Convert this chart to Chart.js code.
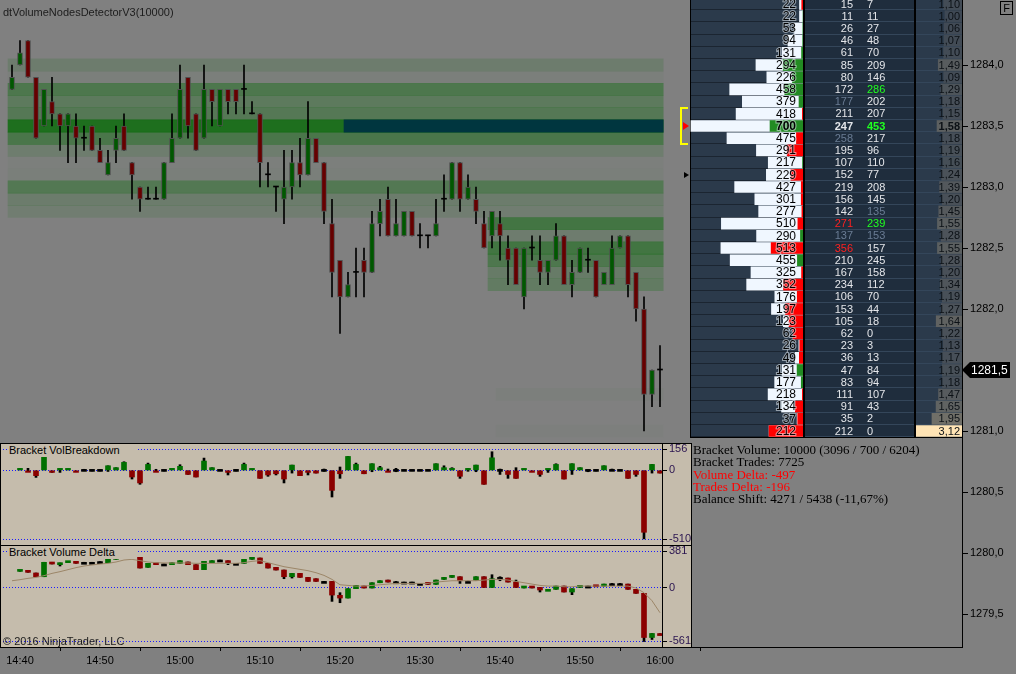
<!DOCTYPE html>
<html>
<head>
<meta charset="utf-8">
<script src="https://cdn.jsdelivr.net/npm/chart.js@4.4.1/dist/chart.umd.min.js"></script>
<style>
  html, body { margin: 0; padding: 0; background: #808080; overflow: hidden; }
  #wrap { position: relative; width: 1016px; height: 674px; }
  canvas { position: absolute; }
  .txt { position: absolute; white-space: nowrap; font-family: Arial, "Liberation Sans", sans-serif; color: #000; }
</style>
</head>
<body>
<div id="wrap">
  <canvas id="bands" width="962" height="647" style="left:0;top:0"></canvas>
  <canvas id="price" width="1016" height="674" style="left:0;top:0"></canvas>
  <canvas id="ladder" width="272" height="647" style="left:690px;top:0"></canvas>
  <canvas id="ratio" width="46" height="647" style="left:916px;top:0"></canvas>
  <canvas id="vb" width="692" height="103" style="left:0;top:443px"></canvas>
  <canvas id="cd" width="692" height="103" style="left:0;top:545px"></canvas>

  <div class="txt" style="left:3px;top:5px;font-size:11px;line-height:14px;color:#1c1c1c">dtVolumeNodesDetectorV3(10000)</div>
  <div class="txt" style="left:7px;top:444px;width:128px;padding-left:2px;font-size:11px;line-height:13px;background:#c5bcac">Bracket VolBreakdown</div>
  <div class="txt" style="left:7px;top:546px;width:128px;padding-left:2px;font-size:11px;line-height:13px;background:#c5bcac">Bracket Volume Delta</div>
  <div class="txt" style="left:3px;top:634px;font-size:11px;line-height:14px;color:#1c1c1c">© 2016 NinjaTrader, LLC</div>
  <div class="txt" style="left:693px;top:444px;font-family:'Liberation Serif','DejaVu Serif',serif;font-size:13px;line-height:12.3px">
    <div>Bracket Volume: 10000 (3096 / 700 / 6204)</div>
    <div>Bracket Trades: 7725</div>
    <div style="color:#ff0000">Volume Delta: -497</div>
    <div style="color:#ff0000">Trades Delta: -196</div>
    <div>Balance Shift: 4271 / 5438 (-11,67%)</div>
  </div>
  <div class="txt" style="left:1000px;top:1px;width:11px;height:12px;border:1px solid #000;font-size:11px;line-height:12px;text-align:center">F</div>
</div>

<script>
// ---------- data ----------
const timeTickIdx = [1, 11, 21, 31, 41, 51, 61, 71, 81];
const timeLabels = ['14:40', '14:50', '15:00', '15:10', '15:20', '15:30', '15:40', '15:50', '16:00'];
const priceTicks = [1279.5, 1280.0, 1280.5, 1281.0, 1281.5, 1282.0, 1282.5, 1283.0, 1283.5, 1284.0];

const candleOpen = [
  1283.8, 1284.0, 1284.2, 1283.9, 1283.5, 1283.7, 1283.6, 1283.5, 1283.5, 1283.4,
  1283.5, 1283.3, 1283.1, 1283.3, 1283.5, 1283.2, 1283.0, 1282.9, 1282.9, 1282.9,
  1283.2, 1283.4, 1283.9, 1283.6, 1283.4, 1283.8, 1283.5, 1283.8, 1283.8, 1283.8,
  1283.6, 1283.6, 1283.1, 1283.0, 1282.9, 1283.0, 1283.2, 1283.1, 1283.4, 1283.2,
  1282.7, 1282.4, 1282.1, 1282.3, 1282.4, 1282.3, 1282.7, 1282.9, 1282.6, 1282.6,
  1282.8, 1282.6, 1282.6, 1282.6, 1282.9, 1282.9, 1283.2, 1282.9, 1282.9, 1282.7,
  1282.6, 1282.7, 1282.5, 1282.5, 1282.1, 1282.5, 1282.4, 1282.3, 1282.4, 1282.6,
  1282.2, 1282.3, 1282.4, 1282.4, 1282.2, 1282.2, 1282.5, 1282.6, 1282.3, 1282.0,
  1281.3, 1281.5];
const candleHigh = [
  1284.0, 1284.2, 1284.2, 1283.9, 1283.8, 1283.9, 1283.6, 1283.6, 1283.6, 1283.5,
  1283.5, 1283.4, 1283.3, 1283.5, 1283.6, 1283.2, 1283.0, 1283.0, 1283.0, 1283.2,
  1283.6, 1284.0, 1283.9, 1283.6, 1284.0, 1283.8, 1283.8, 1283.8, 1283.8, 1284.0,
  1283.7, 1283.6, 1283.2, 1283.0, 1283.3, 1283.3, 1283.4, 1283.7, 1283.4, 1283.2,
  1282.9, 1282.4, 1282.3, 1282.5, 1282.5, 1282.8, 1282.9, 1283.0, 1282.9, 1282.8,
  1282.8, 1282.7, 1282.6, 1282.9, 1283.1, 1283.2, 1283.2, 1283.1, 1283.0, 1282.8,
  1282.8, 1282.8, 1282.6, 1282.5, 1282.5, 1282.6, 1282.6, 1282.4, 1282.7, 1282.6,
  1282.4, 1282.5, 1282.5, 1282.4, 1282.3, 1282.6, 1282.6, 1282.6, 1282.3, 1282.1,
  1281.5, 1281.7];
const candleLow = [
  1283.8, 1284.0, 1283.9, 1283.4, 1283.5, 1283.5, 1283.3, 1283.2, 1283.2, 1283.3,
  1283.3, 1283.2, 1283.1, 1283.2, 1283.3, 1282.9, 1282.8, 1282.9, 1282.9, 1282.9,
  1283.2, 1283.4, 1283.4, 1283.3, 1283.4, 1283.5, 1283.5, 1283.6, 1283.6, 1283.6,
  1283.6, 1283.0, 1283.0, 1282.8, 1282.7, 1282.9, 1283.0, 1283.1, 1283.2, 1282.7,
  1282.1, 1281.8, 1282.1, 1282.1, 1282.1, 1282.3, 1282.6, 1282.6, 1282.6, 1282.6,
  1282.6, 1282.5, 1282.5, 1282.6, 1282.8, 1282.9, 1282.8, 1282.9, 1282.7, 1282.5,
  1282.5, 1282.4, 1282.2, 1282.2, 1282.0, 1282.4, 1282.2, 1282.2, 1282.4, 1282.2,
  1282.1, 1282.3, 1282.3, 1282.1, 1282.2, 1282.2, 1282.5, 1282.1, 1281.9, 1281.0,
  1281.2, 1281.2];
const candleClose = [
  1283.9, 1284.1, 1283.9, 1283.4, 1283.8, 1283.6, 1283.5, 1283.6, 1283.4, 1283.4,
  1283.3, 1283.2, 1283.2, 1283.4, 1283.3, 1283.1, 1282.9, 1282.9, 1282.9, 1283.2,
  1283.4, 1283.8, 1283.5, 1283.3, 1283.8, 1283.7, 1283.8, 1283.7, 1283.7, 1283.8,
  1283.6, 1283.2, 1283.1, 1283.0, 1283.0, 1283.2, 1283.1, 1283.4, 1283.2, 1282.8,
  1282.3, 1282.1, 1282.2, 1282.3, 1282.3, 1282.7, 1282.8, 1282.6, 1282.7, 1282.8,
  1282.6, 1282.6, 1282.6, 1282.7, 1282.9, 1283.2, 1282.9, 1283.0, 1282.8, 1282.5,
  1282.8, 1282.6, 1282.4, 1282.2, 1282.5, 1282.5, 1282.3, 1282.4, 1282.6, 1282.2,
  1282.3, 1282.5, 1282.4, 1282.1, 1282.3, 1282.5, 1282.6, 1282.2, 1282.0, 1281.3,
  1281.5, 1281.5];

// volume ladder, one row per 0.1
const ladderPrice = [1284.5, 1284.4, 1284.3, 1284.2, 1284.1, 1284.0, 1283.9, 1283.8, 1283.7, 1283.6,
  1283.5, 1283.4, 1283.3, 1283.2, 1283.1, 1283.0, 1282.9, 1282.8, 1282.7, 1282.6,
  1282.5, 1282.4, 1282.3, 1282.2, 1282.1, 1282.0, 1281.9, 1281.8, 1281.7, 1281.6,
  1281.5, 1281.4, 1281.3, 1281.2, 1281.1, 1281.0];
const ladderVol = [22, 22, 53, 94, 131, 294, 226, 458, 379, 418, 700, 475, 291, 217, 229, 427, 301, 277,
  510, 290, 513, 455, 325, 352, 176, 197, 123, 62, 26, 49, 131, 177, 218, 134, 37, 212];
const ladderBid = [15, 11, 26, 46, 61, 85, 80, 172, 177, 211, 247, 258, 195, 107, 152, 219, 156, 142,
  271, 137, 356, 210, 167, 234, 106, 153, 105, 62, 23, 36, 47, 83, 111, 91, 35, 212];
const ladderAsk = [7, 11, 27, 48, 70, 209, 146, 286, 202, 207, 453, 217, 96, 110, 77, 208, 145, 135,
  239, 153, 157, 245, 158, 112, 70, 44, 18, 0, 3, 13, 84, 94, 107, 43, 2, 0];
const ladderRatio = [1.10, 1.00, 1.06, 1.07, 1.10, 1.49, 1.09, 1.29, 1.18, 1.15, 1.58, 1.18, 1.19, 1.16,
  1.24, 1.39, 1.20, 1.45, 1.55, 1.28, 1.55, 1.28, 1.20, 1.34, 1.19, 1.27, 1.64, 1.22, 1.13, 1.17,
  1.19, 1.18, 1.47, 1.65, 1.95, 3.12];
// first bar index where each volume node band starts
const bandFromIdx = [-0.5, -0.5, -0.5, -0.5, -0.5, -0.5, -0.5, -0.5, -0.5, -0.5, -0.5, -0.5, -0.5, -0.5,
  -0.5, -0.5, -0.5, -0.5, 59.5, 59.5, 59.5, 59.5, 59.5, 59.5, 41.5, 41.5, 60.5, 60.5, 60.5, 60.5,
  60.5, 60.5, 60.5, 60.5, 60.5, 60.5];
const bandToIdx = 81.4;
const pocPrice = 1283.5;
const pocShiftIdx = 41.5;
const bracketTop = 1283.65;
const bracketBottom = 1283.35;
const markPrice = 1283.1;

// Bracket VolBreakdown
const vbDelta = [null, 8, -5, -39, 156, -15, 10, 10, -10, 0,
  0, 0, 34, 20, 59, -49, -93, 44, -5, 0,
  15, 30, -30, -49, 69, 20, 0, -15, 0, 44,
  10, -59, -34, -25, -64, 39, -39, -15, -20, 0,
  -148, -25, 103, 44, -25, 49, 20, -10, 0, 0,
  0, 0, 0, 49, 20, 15, -44, 5, 39, -103,
  93, 0, -30, -59, 10, -10, -30, 10, 44, -64,
  49, 20, 0, 0, 34, 0, 0, -59, -30, -458,
  44, -20];
const vbHigh = [null, 12, 15, 0, 156, 0, 10, 10, 0, 8,
  3, 5, 34, 20, 64, 0, 0, 54, 8, 2,
  15, 42, 0, 0, 91, 20, 3, 0, 5, 54,
  10, 0, 0, 0, 0, 39, 0, 0, 0, 10,
  0, 25, 103, 54, 0, 49, 30, 10, 15, 3,
  3, 3, 3, 49, 34, 20, 0, 15, 39, 0,
  138, 10, 0, 20, 10, 0, 0, 10, 49, 0,
  49, 20, 3, 3, 34, 10, 3, 0, 0, 0,
  44, 0];
const vbLow = [null, 0, -8, -52, 0, -15, -15, 0, -10, -3,
  -5, -5, -8, 0, 0, -64, -103, 0, -8, -5,
  0, 0, -30, -49, 0, 0, -3, -34, -5, 0,
  0, -59, -44, -34, -93, -20, -39, -34, -20, -7,
  -197, -59, 0, 0, -25, -10, 0, -10, -10, -3,
  -3, -3, -3, 0, 0, 0, -59, -7, -10, -103,
  0, -30, -59, -59, 0, -10, -44, -15, 0, -64,
  -30, 0, -10, -5, 0, 0, -3, -59, -44, -507,
  -20, -20];
const vbTicks = [156, 0, -510];

// Bracket Volume Delta (cumulative)
const cdOpen = [null, 171, 182, 154, 115, 266, 241, 262, 266, 266,
  266, 273, 262, 297, 311, 367, 318, 213, 255, 248,
  241, 255, 269, 241, 189, 262, 290, 283, 255, 255,
  297, 311, 255, 213, 185, 115, 150, 108, 94, 66,
  66, -80, -108, -10, 17, -3, 52, 73, 62, 59,
  59, 45, 45, 35, 87, 108, 115, 66, 80, 115,
  3, 108, 101, 59, -3, 3, 3, -31, -17, 17,
  -45, 3, 17, 17, 17, 42, 42, 38, -17, -59,
  -521, -480];
const cdHigh = [null, 182, 182, 154, 266, 266, 259, 266, 266, 266,
  266, 273, 297, 311, 374, 374, 318, 255, 255, 248,
  262, 283, 269, 241, 276, 283, 290, 283, 255, 297,
  311, 311, 255, 213, 185, 150, 150, 108, 94, 66,
  66, -52, -10, 24, 17, 52, 73, 80, 66, 59,
  59, 45, 45, 80, 108, 129, 115, 70, 115, 115,
  136, 115, 101, 80, 10, 3, 3, -17, 17, 17,
  -10, 17, 17, 17, 38, 45, 45, 38, -17, -59,
  -479, -480];
const cdLow = [null, 171, 161, 115, 115, 248, 227, 262, 255, 262,
  262, 269, 262, 297, 311, 311, 206, 213, 241, 245,
  241, 255, 241, 189, 189, 262, 287, 241, 252, 255,
  297, 255, 206, 185, 94, 101, 108, 66, 66, 63,
  -143, -157, -108, -10, -3, -3, 52, 59, 59, 56,
  56, 42, 35, 35, 87, 108, 45, 63, 80, 3,
  3, 73, 59, 3, -3, -3, -45, -31, -17, -45,
  -73, 3, 14, 10, 17, 40, 40, -17, -59, -563,
  -542, -494];
const cdClose = [null, 178, 161, 115, 266, 248, 259, 266, 255, 266,
  266, 273, 297, 311, 374, 311, 206, 255, 241, 248,
  262, 283, 241, 189, 276, 283, 290, 262, 255, 297,
  311, 255, 206, 185, 115, 150, 108, 66, 66, 66,
  -77, -108, -10, 24, -3, 52, 73, 59, 62, 59,
  59, 45, 35, 80, 108, 122, 73, 66, 115, 3,
  94, 108, 59, 3, 10, -3, -24, -17, 17, -45,
  -10, 17, 17, 10, 38, 42, 42, -17, -59, -521,
  -479, -494];
const cdAverage = [73, 84, 98, 108, 126, 150, 168, 189, 210, 227,
  238, 248, 255, 269, 290, 297, 283, 269, 262, 259,
  259, 259, 259, 255, 255, 255, 255, 255, 255, 262,
  276, 283, 262, 241, 220, 206, 192, 178, 157, 129,
  87, 31, 24, 17, 17, 24, 31, 38, 45, 45,
  45, 45, 45, 59, 66, 73, 73, 73, 73, 80,
  87, 87, 80, 66, 52, 38, 24, 17, 17, 10,
  10, 17, 17, 17, 17, 17, 17, 17, -3, -52,
  -136, -262];
const cdTicks = [381, 0, -561];

// ---------- setup ----------
const FONT = 'Arial, "Liberation Sans", sans-serif';
const PRICE_MIN = 1279.2295, PRICE_MAX = 1284.533;
const IDX_MIN = -1.5;
const idx = candleOpen.map((_, i) => i);
const fmtPrice = v => Number(v).toFixed(1).replace('.', ',');

Chart.defaults.font.family = FONT;
Chart.defaults.animation = false;
Chart.defaults.plugins.legend.display = false;
Chart.defaults.plugins.tooltip.enabled = false;

function fixAxis(size) {
  return s => {
    if (s.isHorizontal()) s.height = size; else s.width = size;
    s.paddingTop = 0; s.paddingBottom = 0; s.paddingLeft = 0; s.paddingRight = 0;
  };
}
function upDown(o, c, up, down) {
  if (o == null) return 'rgba(0,0,0,0)';
  return c > o ? up : (c < o ? down : '#000');
}
const bandAlpha = v => Math.max(0, Math.min(0.8, (v - 200) / 650));

// ---------- volume node bands ----------
new Chart(document.getElementById('bands'), {
  type: 'bar',
  data: {
    datasets: [
      {
        data: [{ x: [pocShiftIdx, bandToIdx], y: pocPrice }],
        backgroundColor: '#00363f', grouped: false, order: 1,
        categoryPercentage: 1, barPercentage: 1
      },
      {
        data: ladderPrice.map((p, k) => ({ x: [bandFromIdx[k], bandToIdx], y: p })),
        backgroundColor: c => `rgba(0,105,0,${bandAlpha(ladderVol[c.dataIndex])})`,
        grouped: false, order: 2, categoryPercentage: 1, barPercentage: 1
      }
    ]
  },
  options: {
    indexAxis: 'y', responsive: false, devicePixelRatio: 1,
    layout: { padding: 0 },
    scales: {
      x: { type: 'linear', min: IDX_MIN, max: IDX_MIN + 962 / 8, display: false, offset: false },
      y: { type: 'linear', min: PRICE_MIN, max: PRICE_MAX, display: false, offset: false }
    }
  }
});

// ---------- price candles ----------
const markers = {
  id: 'markers',
  afterDraw(chart) {
    const { ctx } = chart;
    const y = chart.scales.y;
    const yT = Math.round(y.getPixelForValue(bracketTop));
    const yB = Math.round(y.getPixelForValue(bracketBottom));
    ctx.save();
    ctx.strokeStyle = '#ffff00'; ctx.lineWidth = 2;
    ctx.beginPath(); ctx.moveTo(688, yT); ctx.lineTo(681, yT); ctx.lineTo(681, yB); ctx.lineTo(688, yB); ctx.stroke();
    const yP = Math.round(y.getPixelForValue(pocPrice));
    ctx.fillStyle = '#ff0000';
    ctx.beginPath(); ctx.moveTo(683, yP - 4); ctx.lineTo(689, yP); ctx.lineTo(683, yP + 4); ctx.closePath(); ctx.fill();
    const yM = Math.round(y.getPixelForValue(markPrice));
    ctx.fillStyle = '#000';
    ctx.beginPath(); ctx.moveTo(684, yM - 3); ctx.lineTo(689, yM); ctx.lineTo(684, yM + 3); ctx.closePath(); ctx.fill();
    // last price pointer
    const last = candleClose[candleClose.length - 1];
    const yL = Math.round(y.getPixelForValue(last));
    ctx.beginPath();
    ctx.moveTo(962, yL); ctx.lineTo(970, yL - 8); ctx.lineTo(1010, yL - 8); ctx.lineTo(1010, yL + 8); ctx.lineTo(970, yL + 8);
    ctx.closePath(); ctx.fill();
    ctx.fillStyle = '#fff'; ctx.font = '12px ' + FONT; ctx.textBaseline = 'middle'; ctx.textAlign = 'left';
    ctx.fillText(fmtPrice(last), 971, yL + 1);
    ctx.restore();
  }
};

new Chart(document.getElementById('price'), {
  type: 'bar',
  data: {
    datasets: [
      {
        data: idx.map(i => ({ x: i, y: [candleLow[i], candleHigh[i]] })),
        backgroundColor: '#000', barThickness: 1, grouped: false, order: 2
      },
      {
        data: idx.map(i => ({ x: i, y: [candleOpen[i], candleClose[i]] })),
        backgroundColor: c => upDown(candleOpen[c.dataIndex], candleClose[c.dataIndex], '#005800', '#660000'),
        borderColor: '#505050',
        borderWidth: c => (candleOpen[c.dataIndex] === candleClose[c.dataIndex] ? 0 : 1),
        borderSkipped: false, barThickness: 5, minBarLength: 1, grouped: false, order: 1
      }
    ]
  },
  options: {
    responsive: false, devicePixelRatio: 1,
    layout: { padding: 0 },
    scales: {
      x: {
        type: 'linear', min: IDX_MIN, max: IDX_MIN + 962 / 8, offset: false,
        afterBuildTicks: s => { s.ticks = timeTickIdx.map(v => ({ value: v })); },
        afterFit: fixAxis(27),
        ticks: {
          autoSkip: false, maxRotation: 0, padding: 3, color: '#000', font: { size: 11 },
          callback: v => timeLabels[timeTickIdx.indexOf(v)] || ''
        },
        grid: { drawOnChartArea: false, drawTicks: true, tickLength: 4, color: '#000' },
        border: { display: true, color: '#000' }
      },
      y: {
        type: 'linear', position: 'right', min: PRICE_MIN, max: PRICE_MAX, offset: false,
        afterBuildTicks: s => { s.ticks = priceTicks.map(v => ({ value: v })); },
        afterFit: fixAxis(54),
        ticks: { padding: 2, color: '#000', font: { size: 11 }, callback: v => fmtPrice(v) },
        grid: { drawOnChartArea: false, drawTicks: true, tickLength: 6, color: '#000' },
        border: { display: true, color: '#000' }
      }
    }
  },
  plugins: [markers]
});

// ---------- ladder ----------
const bidStyle = { 8: '#6a7c94', 11: '#6a7c94', 19: '#6a7c94', 18: '#ff2020', 20: '#ff2020' };
const askStyle = { 17: '#6a7c94', 19: '#6a7c94', 7: '#20ff20', 10: '#20ff20', 18: '#20ff20' };
const pocRow = ladderPrice.indexOf(pocPrice);

const ladderCells = {
  id: 'ladderCells',
  beforeDatasetsDraw(chart) {
    const { ctx } = chart;
    const y = chart.scales.y;
    const top = y.getPixelForValue(ladderPrice[0] + 0.05);
    const bot = Math.round(y.getPixelForValue(ladderPrice[ladderPrice.length - 1] - 0.05));
    ctx.save();
    ctx.fillStyle = '#000'; ctx.fillRect(0, top, 272, bot - top + 1);
    ctx.fillStyle = '#2b3a4b'; ctx.fillRect(1, top, 112, bot - top);
    ctx.fillStyle = '#1f2d3d'; ctx.fillRect(115, top, 109, bot - top);
    ctx.fillStyle = '#2b3a4b'; ctx.fillRect(226, top, 46, bot - top);
    ladderPrice.forEach(p => {
      const yy = Math.round(y.getPixelForValue(p - 0.05)) - 1;
      ctx.fillStyle = '#1b2531'; ctx.fillRect(1, yy, 112, 1);
      ctx.fillStyle = '#34465a'; ctx.fillRect(115, yy, 109, 1); ctx.fillRect(226, yy, 46, 1);
    });
    ctx.restore();
  },
  afterDatasetsDraw(chart) {
    const { ctx } = chart;
    const y = chart.scales.y;
    ctx.save();
    ctx.textBaseline = 'middle';
    ladderPrice.forEach((p, k) => {
      const yy = y.getPixelForValue(p) + 0.5;
      const bold = k === pocRow ? 'bold ' : '';
      ctx.font = bold + '12px ' + FONT;
      ctx.textAlign = 'right';
      ctx.lineWidth = 2; ctx.strokeStyle = 'rgba(235,242,250,0.55)';
      ctx.strokeText(String(ladderVol[k]), 106, yy);
      ctx.fillStyle = '#000'; ctx.fillText(String(ladderVol[k]), 106, yy);
      ctx.font = bold + '11px ' + FONT;
      ctx.fillStyle = bidStyle[k] || '#e4e6ea';
      ctx.fillText(String(ladderBid[k]), 163, yy);
      ctx.textAlign = 'left';
      ctx.fillStyle = askStyle[k] || '#e4e6ea';
      ctx.fillText(String(ladderAsk[k]), 177, yy);
    });
    ctx.restore();
  }
};

new Chart(document.getElementById('ladder'), {
  type: 'bar',
  data: {
    datasets: [
      {
        data: ladderPrice.map((p, k) => ({ x: ladderVol[k], y: p })),
        backgroundColor: '#f0f7ff', barThickness: 11, grouped: false, order: 2
      },
      {
        data: ladderPrice.map((p, k) => ({ x: Math.abs(ladderAsk[k] - ladderBid[k]), y: p })),
        backgroundColor: c => (ladderAsk[c.dataIndex] >= ladderBid[c.dataIndex] ? '#228b22' : '#ff0000'),
        barThickness: 11, grouped: false, order: 1
      }
    ]
  },
  options: {
    indexAxis: 'y', responsive: false, devicePixelRatio: 1,
    layout: { padding: { left: 0, top: 0, bottom: 0, right: 159 } },
    scales: {
      x: { type: 'linear', min: 0, max: 706, reverse: true, display: false, offset: false },
      y: { type: 'linear', min: PRICE_MIN, max: PRICE_MAX, display: false, offset: false }
    }
  },
  plugins: [ladderCells]
});

function ratioColor(r) {
  if (r >= 3) return '#ffe4b5';
  const t = Math.max(0, Math.min(1, (r - 1) / 0.95));
  const mix = (a, b) => Math.round(a + (b - a) * t);
  return `rgb(${mix(62, 112)},${mix(72, 111)},${mix(84, 104)})`;
}
const ratioText = {
  id: 'ratioText',
  afterDatasetsDraw(chart) {
    const { ctx } = chart;
    const y = chart.scales.y;
    ctx.save();
    ctx.textBaseline = 'middle'; ctx.textAlign = 'right';
    ladderRatio.forEach((r, k) => {
      ctx.font = (k === pocRow ? 'bold ' : '') + '11px ' + FONT;
      ctx.fillStyle = '#0c1116';
      ctx.fillText(r.toFixed(2).replace('.', ','), 44, y.getPixelForValue(ladderPrice[k]) + 0.5);
    });
    ctx.restore();
  }
};

new Chart(document.getElementById('ratio'), {
  type: 'bar',
  data: {
    datasets: [{
      data: ladderPrice.map((p, k) => ({ x: [-0.25, ladderRatio[k]], y: p })),
      backgroundColor: c => ratioColor(ladderRatio[c.dataIndex]),
      barThickness: 11
    }]
  },
  options: {
    indexAxis: 'y', responsive: false, devicePixelRatio: 1,
    layout: { padding: 0 },
    scales: {
      x: { type: 'linear', min: -0.25, max: 3.12, reverse: true, display: false, offset: false },
      y: { type: 'linear', min: PRICE_MIN, max: PRICE_MAX, display: false, offset: false }
    }
  },
  plugins: [ratioText]
});

// ---------- indicator panels ----------
const panelFrame = {
  id: 'panelFrame',
  beforeDraw(chart) {
    const { ctx, width, height } = chart;
    ctx.save(); ctx.fillStyle = '#c5bcac'; ctx.fillRect(0, 0, width, height); ctx.restore();
  },
  afterDraw(chart) {
    const { ctx, width, height } = chart;
    ctx.save(); ctx.strokeStyle = '#000'; ctx.lineWidth = 1;
    ctx.strokeRect(0.5, 0.5, width - 1, height - 1); ctx.restore();
  }
};

function panelOptions(yMin, yMax, ticks) {
  return {
    responsive: false, devicePixelRatio: 1,
    layout: { padding: 0 },
    scales: {
      x: { type: 'linear', min: IDX_MIN, max: IDX_MIN + 662 / 8, display: false, offset: false },
      y: {
        type: 'linear', position: 'right', min: yMin, max: yMax, offset: false,
        afterBuildTicks: s => { s.ticks = ticks.map(v => ({ value: v })); },
        afterFit: fixAxis(30),
        ticks: { padding: 2, color: '#2a1450', font: { size: 11 }, callback: v => String(v) },
        grid: { color: '#1a1aff', lineWidth: 1, tickColor: '#000', tickLength: 5, tickBorderDash: [] },
        border: { display: true, color: '#000', dash: [1, 2] }
      }
    }
  };
}

new Chart(document.getElementById('vb'), {
  type: 'bar',
  data: {
    datasets: [
      {
        data: idx.map(i => ({ x: i, y: vbHigh[i] == null ? null : [vbLow[i], vbHigh[i]] })),
        backgroundColor: '#000', barThickness: 2, grouped: false, order: 2
      },
      {
        data: idx.map(i => ({ x: i, y: vbDelta[i] })),
        backgroundColor: c => upDown(0, vbDelta[c.dataIndex], '#007000', '#8b0000'),
        barThickness: 5, minBarLength: 2, grouped: false, order: 1
      }
    ]
  },
  options: panelOptions(-559.6, 202.6, vbTicks),
  plugins: [panelFrame]
});

new Chart(document.getElementById('cd'), {
  type: 'bar',
  data: {
    datasets: [
      {
        type: 'line',
        data: idx.map(i => ({ x: i, y: cdAverage[i] })),
        borderColor: '#9c8668', borderWidth: 1, pointRadius: 0, tension: 0, order: 0
      },
      {
        data: idx.map(i => ({ x: i, y: cdHigh[i] == null ? null : [cdLow[i], cdHigh[i]] })),
        backgroundColor: '#000', barThickness: 2, grouped: false, order: 2
      },
      {
        data: idx.map(i => ({ x: i, y: cdOpen[i] == null ? null : [cdOpen[i], cdClose[i]] })),
        backgroundColor: c => upDown(cdOpen[c.dataIndex], cdClose[c.dataIndex], '#007000', '#8b0000'),
        barThickness: 5, minBarLength: 2, grouped: false, order: 1
      }
    ]
  },
  options: panelOptions(-631, 447, cdTicks),
  plugins: [panelFrame]
});
</script>
</body>
</html>
